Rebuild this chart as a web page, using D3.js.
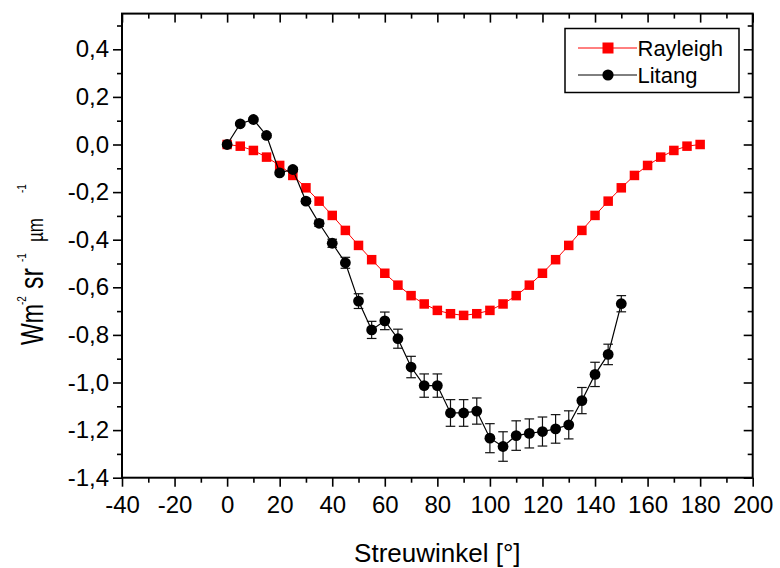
<!DOCTYPE html>
<html>
<head>
<meta charset="utf-8">
<script src="https://cdn.jsdelivr.net/npm/d3@7"></script>
<style>
  html, body { margin: 0; padding: 0; background: #fff; }
  svg { display: block; font-family: "Liberation Sans", Arial, sans-serif; }
</style>
</head>
<body>
<svg id="chart" width="780" height="568"></svg>
<script>
// ---------- data ----------
const rayleighAngles = [0,5,10,15,20,25,30,35,40,45,50,55,60,65,70,75,80,85,90,95,100,105,110,115,120,125,130,135,140,145,150,155,160,165,170,175,180];
const rayleighValues = [0,-0.007,-0.025,-0.053,-0.088,-0.13,-0.182,-0.238,-0.298,-0.361,-0.424,-0.484,-0.541,-0.591,-0.635,-0.670,-0.697,-0.711,-0.718,-0.711,-0.697,-0.670,-0.635,-0.591,-0.541,-0.484,-0.424,-0.361,-0.298,-0.238,-0.182,-0.13,-0.088,-0.053,-0.025,-0.007,0];

const litangAngles = [0,5,10,15,20,25,30,35,40,45,50,55,60,65,70,75,80,85,90,95,100,105,110,115,120,125,130,135,140,145,150];
const litangValues = [0,0.087,0.105,0.038,-0.119,-0.105,-0.238,-0.331,-0.415,-0.497,-0.658,-0.779,-0.741,-0.816,-0.935,-1.013,-1.013,-1.128,-1.128,-1.12,-1.234,-1.269,-1.223,-1.214,-1.206,-1.195,-1.178,-1.076,-0.966,-0.882,-0.669];
const litangErrors = [0.004,0.005,0.006,0.007,0.008,0.009,0.01,0.013,0.017,0.023,0.031,0.036,0.037,0.04,0.045,0.049,0.049,0.056,0.056,0.055,0.061,0.062,0.062,0.061,0.061,0.06,0.059,0.055,0.051,0.043,0.034];

const seriesNames = ["Rayleigh", "Litang"];
const xTicks = [-40,-20,0,20,40,60,80,100,120,140,160,180,200];
const xMinorTicks = [-30,-10,10,30,50,70,90,110,130,150,170,190];
const yTicks = [-1.4,-1.2,-1.0,-0.8,-0.6,-0.4,-0.2,0.0,0.2,0.4];
const yTickLabels = ["-1,4","-1,2","-1,0","-0,8","-0,6","-0,4","-0,2","0,0","0,2","0,4"];
const yMinorTicks = [-1.3,-1.1,-0.9,-0.7,-0.5,-0.3,-0.1,0.1,0.3,0.5];
const xTitle = "Streuwinkel [°]";

// ---------- layout ----------
const pLeft = 122, pRight = 752.7, pTop = 13.6, pBottom = 477.7;
const svg = d3.select("#chart");

const x = d3.scaleLinear().domain([-40, 200]).range([pLeft, pRight]);
const y = d3.scaleLinear().domain([-1.4, 0.55]).range([pBottom, pTop]);

const tickFont = 24;

function styleAxis(g) {
  g.select(".domain").remove();
  g.selectAll(".tick line").attr("stroke", "#000").attr("stroke-width", 1.6);
}

// bottom axis (outward)
const gB = svg.append("g").attr("transform", `translate(0,${pBottom})`)
  .call(d3.axisBottom(x).tickValues(xTicks).tickSize(9).tickPadding(9).tickFormat(d => String(d)));
styleAxis(gB);
gB.selectAll("text").attr("font-size", tickFont).attr("fill", "#000").attr("font-family", "Liberation Sans, Arial, sans-serif");
const gBm = svg.append("g").attr("transform", `translate(0,${pBottom})`)
  .call(d3.axisBottom(x).tickValues(xMinorTicks).tickSize(5).tickFormat(""));
styleAxis(gBm);

// top axis (inward)
const gT = svg.append("g").attr("transform", `translate(0,${pTop})`)
  .call(d3.axisBottom(x).tickValues(xTicks).tickSize(9).tickFormat(""));
styleAxis(gT);
const gTm = svg.append("g").attr("transform", `translate(0,${pTop})`)
  .call(d3.axisBottom(x).tickValues(xMinorTicks).tickSize(5).tickFormat(""));
styleAxis(gTm);

// left axis (outward)
const gL = svg.append("g").attr("transform", `translate(${pLeft},0)`)
  .call(d3.axisLeft(y).tickValues(yTicks).tickSize(9).tickPadding(4)
    .tickFormat((d, i) => yTickLabels[i]));
styleAxis(gL);
gL.selectAll("text").attr("font-size", tickFont).attr("fill", "#000").attr("font-family", "Liberation Sans, Arial, sans-serif");
const gLm = svg.append("g").attr("transform", `translate(${pLeft},0)`)
  .call(d3.axisLeft(y).tickValues(yMinorTicks).tickSize(5).tickFormat(""));
styleAxis(gLm);

// right axis (inward)
const gR = svg.append("g").attr("transform", `translate(${pRight},0)`)
  .call(d3.axisLeft(y).tickValues(yTicks).tickSize(9).tickFormat(""));
styleAxis(gR);
const gRm = svg.append("g").attr("transform", `translate(${pRight},0)`)
  .call(d3.axisLeft(y).tickValues(yMinorTicks).tickSize(5).tickFormat(""));
styleAxis(gRm);

// frame
svg.append("rect").attr("x", pLeft).attr("y", pTop)
  .attr("width", pRight - pLeft).attr("height", pBottom - pTop)
  .attr("fill", "none").attr("stroke", "#000").attr("stroke-width", 2);

// ---------- series ----------
const rayData = rayleighAngles.map((a, i) => ({a, v: rayleighValues[i]}));
const litData = litangAngles.map((a, i) => ({a, v: litangValues[i], e: litangErrors[i]}));
const line = d3.line().x(d => x(d.a)).y(d => y(d.v));

// Rayleigh
svg.append("path").datum(rayData).attr("d", line)
  .attr("fill", "none").attr("stroke", "#ff0000").attr("stroke-width", 1);
const sq = 9.5;
svg.append("g").selectAll("rect").data(rayData).join("rect")
  .attr("x", d => x(d.a) - sq/2).attr("y", d => y(d.v) - sq/2)
  .attr("width", sq).attr("height", sq).attr("fill", "#ff0000");

// Litang
svg.append("path").datum(litData).attr("d", line)
  .attr("fill", "none").attr("stroke", "#000").attr("stroke-width", 1.2);
const eb = svg.append("g").attr("stroke", "#111").attr("stroke-width", 1.2);
const cap = 4.8;
litData.forEach(d => {
  const cx = x(d.a), y1 = y(d.v + d.e), y2 = y(d.v - d.e);
  eb.append("line").attr("x1", cx).attr("x2", cx).attr("y1", y1).attr("y2", y2);
  eb.append("line").attr("x1", cx - cap).attr("x2", cx + cap).attr("y1", y1).attr("y2", y1);
  eb.append("line").attr("x1", cx - cap).attr("x2", cx + cap).attr("y1", y2).attr("y2", y2);
});
svg.append("g").selectAll("circle").data(litData).join("circle")
  .attr("cx", d => x(d.a)).attr("cy", d => y(d.v)).attr("r", 5.4).attr("fill", "#000");

// ---------- titles ----------
svg.append("text").attr("x", (pLeft + pRight) / 2).attr("y", 562)
  .attr("text-anchor", "middle").attr("font-size", 26).attr("fill", "#000").text(xTitle);

// y title: rotated, glyphs slightly stretched in height like the original
const yt = svg.append("text").attr("transform", "translate(43,345) rotate(-90) scale(1,1.35)")
  .attr("text-anchor", "start").attr("fill", "#000");
const supDy = -12.6;
yt.append("tspan").attr("x", 0).attr("y", 0).attr("font-size", 23).text("Wm");
yt.append("tspan").attr("x", 40).attr("y", supDy).attr("font-size", 10).text("-2");
yt.append("tspan").attr("x", 56).attr("y", 0).attr("font-size", 25).text("sr");
yt.append("tspan").attr("x", 83).attr("y", supDy).attr("font-size", 10).text("-1");
yt.append("tspan").attr("x", 103).attr("y", 0).attr("font-size", 17).text("µm");
yt.append("tspan").attr("x", 152).attr("y", supDy).attr("font-size", 10).text("-1");

// ---------- legend ----------
const lg = svg.append("g");
lg.append("rect").attr("x", 565).attr("y", 28.5).attr("width", 174).attr("height", 64)
  .attr("fill", "#fff").attr("stroke", "#000").attr("stroke-width", 1.5);
const legendRows = [
  {name: seriesNames[0], color: "#ff0000", shape: "square", yy: 48},
  {name: seriesNames[1], color: "#000", shape: "circle", yy: 75}
];
const lsq = 11;
legendRows.forEach(r => {
  lg.append("line").attr("x1", 578).attr("x2", 637).attr("y1", r.yy).attr("y2", r.yy)
    .attr("stroke", r.color).attr("stroke-width", 1);
  if (r.shape === "square") {
    lg.append("rect").attr("x", 608 - lsq/2).attr("y", r.yy - lsq/2)
      .attr("width", lsq).attr("height", lsq).attr("fill", r.color);
  } else {
    lg.append("circle").attr("cx", 608).attr("cy", r.yy).attr("r", 5.6).attr("fill", r.color);
  }
  lg.append("text").attr("x", 637.5).attr("y", r.yy + 8).attr("font-size", 22)
    .attr("fill", "#000").text(r.name);
});
</script>
</body>
</html>
